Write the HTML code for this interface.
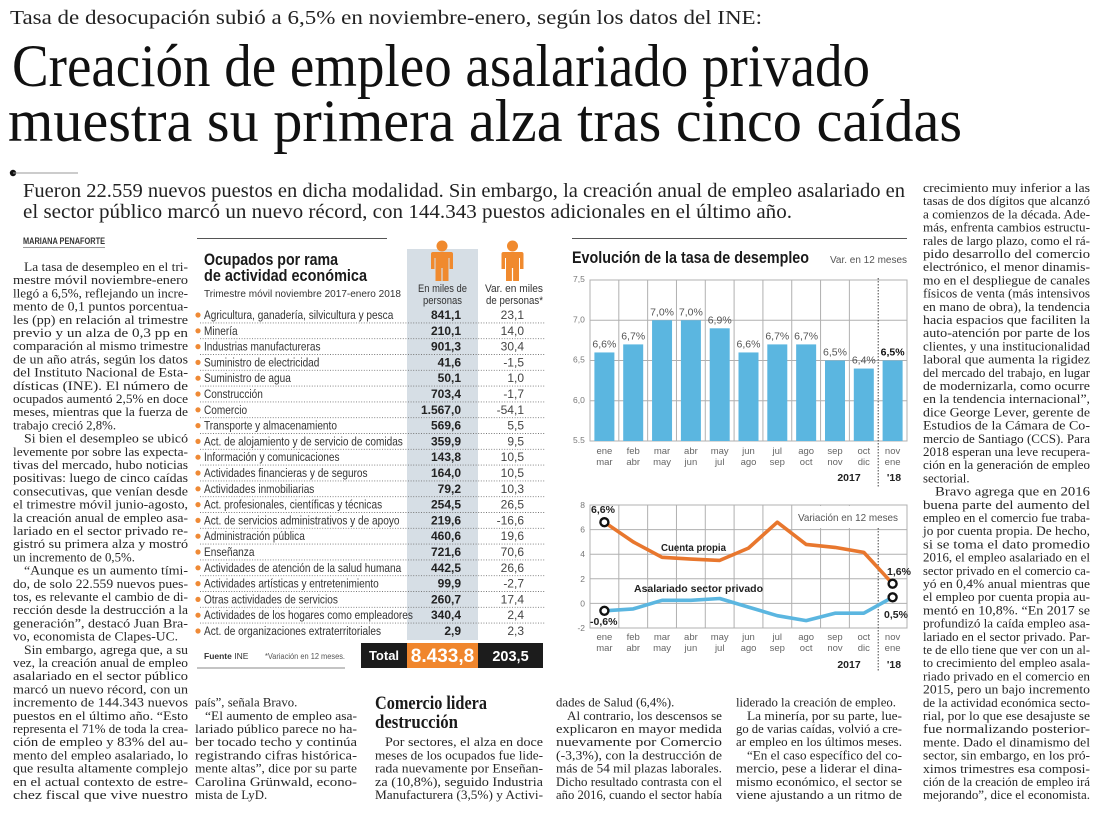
<!DOCTYPE html>
<html><head><meta charset="utf-8">
<style>
html,body{margin:0;padding:0;background:#fff;}
svg{display:block;}
.b{font-family:"Liberation Serif",serif;font-size:12.8px;fill:#262626;}
.s{font-family:"Liberation Sans",sans-serif;}
.tl{font-family:"Liberation Sans",sans-serif;font-size:12px;fill:#333;}
.v1{font-family:"Liberation Sans",sans-serif;font-size:12px;font-weight:bold;fill:#222;text-anchor:end;}
.v2{font-family:"Liberation Sans",sans-serif;font-size:12px;fill:#444;text-anchor:end;}
.ax{font-family:"Liberation Sans",sans-serif;font-size:8.5px;fill:#777;}
.xl{font-family:"Liberation Sans",sans-serif;font-size:9.5px;fill:#666;text-anchor:middle;}
.bl{font-family:"Liberation Sans",sans-serif;font-size:10.5px;fill:#555;text-anchor:middle;}
.g{stroke:#b0b0b0;stroke-width:1;fill:none;}
.dot{stroke:#777;stroke-width:0.9;stroke-dasharray:1 1.6;}
</style></head>
<body>
<svg width="1100" height="816" viewBox="0 0 1100 816" xmlns="http://www.w3.org/2000/svg">
<rect width="1100" height="816" fill="#fff"/>

<!-- Kicker & headline -->
<text x="10" y="24" font-family="Liberation Serif, serif" font-size="20" fill="#222" textLength="752" lengthAdjust="spacingAndGlyphs">Tasa de desocupación subió a 6,5% en noviembre-enero, según los datos del INE:</text>
<text x="12" y="86" font-family="Liberation Serif, serif" font-size="60" fill="#111" textLength="858" lengthAdjust="spacingAndGlyphs">Creación de empleo asalariado privado</text>
<text x="8" y="141" font-family="Liberation Serif, serif" font-size="60" fill="#111" textLength="954" lengthAdjust="spacingAndGlyphs">muestra su primera alza tras cinco caídas</text>

<circle cx="13" cy="173" r="3.2" fill="#111"/>
<line x1="13" y1="173" x2="78" y2="173" stroke="#999" stroke-width="0.9"/>

<text x="23" y="197" font-family="Liberation Serif, serif" font-size="19.5" fill="#222" textLength="882" lengthAdjust="spacingAndGlyphs">Fueron 22.559 nuevos puestos en dicha modalidad. Sin embargo, la creación anual de empleo asalariado en</text>
<text x="23" y="218" font-family="Liberation Serif, serif" font-size="19.5" fill="#222" textLength="769" lengthAdjust="spacingAndGlyphs">el sector público marcó un nuevo récord, con 144.343 puestos adicionales en el último año.</text>

<text x="23" y="244" class="s" font-size="9" font-weight="bold" fill="#333" textLength="82" lengthAdjust="spacingAndGlyphs">MARIANA PENAFORTE</text>
<line x1="23" y1="247.5" x2="105" y2="247.5" stroke="#777" stroke-width="0.8"/>

<!-- Left column -->
<g class="b">
<text x="24" y="271" textLength="164" lengthAdjust="spacingAndGlyphs">La tasa de desempleo en el tri-</text>
<text x="13" y="284.2" textLength="175" lengthAdjust="spacingAndGlyphs">mestre móvil noviembre-enero</text>
<text x="13" y="297.4" textLength="175" lengthAdjust="spacingAndGlyphs">llegó a 6,5%, reflejando un incre-</text>
<text x="13" y="310.6" textLength="175" lengthAdjust="spacingAndGlyphs">mento de 0,1 puntos porcentua-</text>
<text x="13" y="323.8" textLength="175" lengthAdjust="spacingAndGlyphs">les (pp) en relación al trimestre</text>
<text x="13" y="337" textLength="175" lengthAdjust="spacingAndGlyphs">previo y un alza de 0,3 pp en</text>
<text x="13" y="350.2" textLength="175" lengthAdjust="spacingAndGlyphs">comparación al mismo trimestre</text>
<text x="13" y="363.4" textLength="175" lengthAdjust="spacingAndGlyphs">de un año atrás, según los datos</text>
<text x="13" y="376.6" textLength="175" lengthAdjust="spacingAndGlyphs">del Instituto Nacional de Esta-</text>
<text x="13" y="389.8" textLength="175" lengthAdjust="spacingAndGlyphs">dísticas (INE). El número de</text>
<text x="13" y="403" textLength="175" lengthAdjust="spacingAndGlyphs">ocupados aumentó 2,5% en doce</text>
<text x="13" y="416.2" textLength="175" lengthAdjust="spacingAndGlyphs">meses, mientras que la fuerza de</text>
<text x="13" y="429.4">trabajo creció 2,8%.</text>
<text x="24" y="442.6" textLength="164" lengthAdjust="spacingAndGlyphs">Si bien el desempleo se ubicó</text>
<text x="13" y="455.8" textLength="175" lengthAdjust="spacingAndGlyphs">levemente por sobre las expecta-</text>
<text x="13" y="469" textLength="175" lengthAdjust="spacingAndGlyphs">tivas del mercado, hubo noticias</text>
<text x="13" y="482.2" textLength="175" lengthAdjust="spacingAndGlyphs">positivas: luego de cinco caídas</text>
<text x="13" y="495.4" textLength="175" lengthAdjust="spacingAndGlyphs">consecutivas, que venían desde</text>
<text x="13" y="508.6" textLength="175" lengthAdjust="spacingAndGlyphs">el trimestre móvil junio-agosto,</text>
<text x="13" y="521.8" textLength="175" lengthAdjust="spacingAndGlyphs">la creación anual de empleo asa-</text>
<text x="13" y="535" textLength="175" lengthAdjust="spacingAndGlyphs">lariado en el sector privado re-</text>
<text x="13" y="548.2" textLength="175" lengthAdjust="spacingAndGlyphs">gistró su primera alza y mostró</text>
<text x="13" y="561.4">un incremento de 0,5%.</text>
<text x="24" y="574.6" textLength="164" lengthAdjust="spacingAndGlyphs">“Aunque es un aumento tími-</text>
<text x="13" y="587.8" textLength="175" lengthAdjust="spacingAndGlyphs">do, de solo 22.559 nuevos pues-</text>
<text x="13" y="601" textLength="175" lengthAdjust="spacingAndGlyphs">tos, es relevante el cambio de di-</text>
<text x="13" y="614.2" textLength="175" lengthAdjust="spacingAndGlyphs">rección desde la destrucción a la</text>
<text x="13" y="627.4" textLength="175" lengthAdjust="spacingAndGlyphs">generación”, destacó Juan Bra-</text>
<text x="13" y="640.6" textLength="165" lengthAdjust="spacingAndGlyphs">vo, economista de Clapes-UC.</text>
<text x="24" y="653.8" textLength="164" lengthAdjust="spacingAndGlyphs">Sin embargo, agrega que, a su</text>
<text x="13" y="667" textLength="175" lengthAdjust="spacingAndGlyphs">vez, la creación anual de empleo</text>
<text x="13" y="680.2" textLength="175" lengthAdjust="spacingAndGlyphs">asalariado en el sector público</text>
<text x="13" y="693.4" textLength="175" lengthAdjust="spacingAndGlyphs">marcó un nuevo récord, con un</text>
<text x="13" y="706.6" textLength="175" lengthAdjust="spacingAndGlyphs">incremento de 144.343 nuevos</text>
<text x="13" y="719.8" textLength="175" lengthAdjust="spacingAndGlyphs">puestos en el último año. “Esto</text>
<text x="13" y="733" textLength="175" lengthAdjust="spacingAndGlyphs">representa el 71% de toda la crea-</text>
<text x="13" y="746.2" textLength="175" lengthAdjust="spacingAndGlyphs">ción de empleo y 83% del au-</text>
<text x="13" y="759.4" textLength="175" lengthAdjust="spacingAndGlyphs">mento del empleo asalariado, lo</text>
<text x="13" y="772.6" textLength="175" lengthAdjust="spacingAndGlyphs">que resulta altamente complejo</text>
<text x="13" y="785.8" textLength="175" lengthAdjust="spacingAndGlyphs">en el actual contexto de estre-</text>
<text x="13" y="799" textLength="175" lengthAdjust="spacingAndGlyphs">chez fiscal que vive nuestro</text>
</g>

<!-- Table -->
<line x1="197" y1="238.5" x2="387" y2="238.5" stroke="#555" stroke-width="1"/>
<rect x="407" y="249" width="71" height="391" fill="#d6dee5"/>
<text x="204" y="265" class="s" font-size="16.5" font-weight="bold" fill="#1a1a1a" textLength="134" lengthAdjust="spacingAndGlyphs">Ocupados por rama</text>
<text x="204" y="281" class="s" font-size="16.5" font-weight="bold" fill="#1a1a1a" textLength="163" lengthAdjust="spacingAndGlyphs">de actividad económica</text>
<text x="204" y="297" class="s" font-size="10.5" fill="#333" textLength="197" lengthAdjust="spacingAndGlyphs">Trimestre móvil noviembre 2017-enero 2018</text>

<g fill="#f08a2e">
 <g transform="translate(442,261)">
  <circle cx="0" cy="-15" r="5.5"/>
  <path d="M-11,-7 Q-11,-9 -9,-9 L9,-9 Q11,-9 11,-7 L11,8 L7.5,8 L7.5,-3 L6.5,-3 L6.5,20 L0.6,20 L0.6,7 L-0.6,7 L-0.6,20 L-6.5,20 L-6.5,-3 L-7.5,-3 L-7.5,8 L-11,8 Z"/>
 </g>
 <g transform="translate(512.5,261)">
  <circle cx="0" cy="-15" r="5.5"/>
  <path d="M-11,-7 Q-11,-9 -9,-9 L9,-9 Q11,-9 11,-7 L11,8 L7.5,8 L7.5,-3 L6.5,-3 L6.5,20 L0.6,20 L0.6,7 L-0.6,7 L-0.6,20 L-6.5,20 L-6.5,-3 L-7.5,-3 L-7.5,8 L-11,8 Z"/>
 </g>
</g>
<text x="418" y="292" class="s" font-size="11" fill="#333" textLength="49" lengthAdjust="spacingAndGlyphs">En miles de</text>
<text x="423" y="304" class="s" font-size="11" fill="#333" textLength="39" lengthAdjust="spacingAndGlyphs">personas</text>
<text x="485" y="292" class="s" font-size="11" fill="#333" textLength="58" lengthAdjust="spacingAndGlyphs">Var. en miles</text>
<text x="486" y="304" class="s" font-size="11" fill="#333" textLength="57" lengthAdjust="spacingAndGlyphs">de personas*</text>

<g fill="#ef8a36">
<circle cx="198" cy="315" r="2.6"/><circle cx="198" cy="330.8" r="2.6"/><circle cx="198" cy="346.6" r="2.6"/>
<circle cx="198" cy="362.4" r="2.6"/><circle cx="198" cy="378.2" r="2.6"/><circle cx="198" cy="394" r="2.6"/>
<circle cx="198" cy="409.8" r="2.6"/><circle cx="198" cy="425.6" r="2.6"/><circle cx="198" cy="441.4" r="2.6"/>
<circle cx="198" cy="457.2" r="2.6"/><circle cx="198" cy="473" r="2.6"/><circle cx="198" cy="488.8" r="2.6"/>
<circle cx="198" cy="504.6" r="2.6"/><circle cx="198" cy="520.4" r="2.6"/><circle cx="198" cy="536.2" r="2.6"/>
<circle cx="198" cy="552" r="2.6"/><circle cx="198" cy="567.8" r="2.6"/><circle cx="198" cy="583.6" r="2.6"/>
<circle cx="198" cy="599.4" r="2.6"/><circle cx="198" cy="615.2" r="2.6"/><circle cx="198" cy="631" r="2.6"/>
</g>

<g class="dot">
<line x1="200" y1="322.9" x2="545" y2="322.9"/><line x1="200" y1="338.7" x2="545" y2="338.7"/>
<line x1="200" y1="354.5" x2="545" y2="354.5"/><line x1="200" y1="370.3" x2="545" y2="370.3"/>
<line x1="200" y1="386.1" x2="545" y2="386.1"/><line x1="200" y1="401.9" x2="545" y2="401.9"/>
<line x1="200" y1="417.7" x2="545" y2="417.7"/><line x1="200" y1="433.5" x2="545" y2="433.5"/>
<line x1="200" y1="449.3" x2="545" y2="449.3"/><line x1="200" y1="465.1" x2="545" y2="465.1"/>
<line x1="200" y1="480.9" x2="545" y2="480.9"/><line x1="200" y1="496.7" x2="545" y2="496.7"/>
<line x1="200" y1="512.5" x2="545" y2="512.5"/><line x1="200" y1="528.3" x2="545" y2="528.3"/>
<line x1="200" y1="544.1" x2="545" y2="544.1"/><line x1="200" y1="559.9" x2="545" y2="559.9"/>
<line x1="200" y1="575.7" x2="545" y2="575.7"/><line x1="200" y1="591.5" x2="545" y2="591.5"/>
<line x1="200" y1="607.3" x2="545" y2="607.3"/><line x1="200" y1="623.1" x2="545" y2="623.1"/>
</g>

<g transform="translate(204,0) scale(0.84,1)" class="tl">
<text x="0" y="319">Agricultura, ganadería, silvicultura y pesca</text>
<text x="0" y="334.8">Minería</text>
<text x="0" y="350.6">Industrias manufactureras</text>
<text x="0" y="366.4">Suministro de electricidad</text>
<text x="0" y="382.2">Suministro de agua</text>
<text x="0" y="398">Construcción</text>
<text x="0" y="413.8">Comercio</text>
<text x="0" y="429.6">Transporte y almacenamiento</text>
<text x="0" y="445.4">Act. de alojamiento y de servicio de comidas</text>
<text x="0" y="461.2">Información y comunicaciones</text>
<text x="0" y="477">Actividades financieras y de seguros</text>
<text x="0" y="492.8">Actividades inmobiliarias</text>
<text x="0" y="508.6">Act. profesionales, científicas y técnicas</text>
<text x="0" y="524.4">Act. de servicios administrativos y de apoyo</text>
<text x="0" y="540.2">Administración pública</text>
<text x="0" y="556">Enseñanza</text>
<text x="0" y="571.8">Actividades de atención de la salud humana</text>
<text x="0" y="587.6">Actividades artísticas y entretenimiento</text>
<text x="0" y="603.4">Otras actividades de servicios</text>
<text x="0" y="619.2">Actividades de los hogares como empleadores</text>
<text x="0" y="635">Act. de organizaciones extraterritoriales</text>
</g>
<g class="v1">
<text x="461" y="319">841,1</text><text x="461" y="334.8">210,1</text><text x="461" y="350.6">901,3</text>
<text x="461" y="366.4">41,6</text><text x="461" y="382.2">50,1</text><text x="461" y="398">703,4</text>
<text x="461" y="413.8">1.567,0</text><text x="461" y="429.6">569,6</text><text x="461" y="445.4">359,9</text>
<text x="461" y="461.2">143,8</text><text x="461" y="477">164,0</text><text x="461" y="492.8">79,2</text>
<text x="461" y="508.6">254,5</text><text x="461" y="524.4">219,6</text><text x="461" y="540.2">460,6</text>
<text x="461" y="556">721,6</text><text x="461" y="571.8">442,5</text><text x="461" y="587.6">99,9</text>
<text x="461" y="603.4">260,7</text><text x="461" y="619.2">340,4</text><text x="461" y="635">2,9</text>
</g>
<g class="v2">
<text x="524" y="319">23,1</text><text x="524" y="334.8">14,0</text><text x="524" y="350.6">30,4</text>
<text x="524" y="366.4">-1,5</text><text x="524" y="382.2">1,0</text><text x="524" y="398">-1,7</text>
<text x="524" y="413.8">-54,1</text><text x="524" y="429.6">5,5</text><text x="524" y="445.4">9,5</text>
<text x="524" y="461.2">10,5</text><text x="524" y="477">10,5</text><text x="524" y="492.8">10,3</text>
<text x="524" y="508.6">26,5</text><text x="524" y="524.4">-16,6</text><text x="524" y="540.2">19,6</text>
<text x="524" y="556">70,6</text><text x="524" y="571.8">26,6</text><text x="524" y="587.6">-2,7</text>
<text x="524" y="603.4">17,4</text><text x="524" y="619.2">2,4</text><text x="524" y="635">2,3</text>
</g>

<text x="204" y="659" class="s" font-size="8.5" fill="#333"><tspan font-weight="bold">Fuente</tspan> INE</text>
<text x="265" y="659" class="s" font-size="8" fill="#555" textLength="80" lengthAdjust="spacingAndGlyphs">*Variación en 12 meses.</text>
<line x1="197" y1="668" x2="345" y2="668" stroke="#888" stroke-width="1"/>
<rect x="361" y="643" width="46" height="25" fill="#1c1c1c"/>
<rect x="407" y="643" width="71" height="25" fill="#f0862d"/>
<rect x="478" y="643" width="65" height="25" fill="#1c1c1c"/>
<text x="384" y="660" class="s" font-size="13" font-weight="bold" fill="#fff" text-anchor="middle">Total</text>
<text x="442.5" y="662" class="s" font-size="19" font-weight="bold" fill="#fff" text-anchor="middle">8.433,8</text>
<text x="510.5" y="661" class="s" font-size="14.5" font-weight="bold" fill="#fff" text-anchor="middle">203,5</text>

<!-- Bar chart -->
<line x1="572" y1="238.5" x2="907" y2="238.5" stroke="#555" stroke-width="1"/>
<text x="572" y="263" class="s" font-size="16.5" font-weight="bold" fill="#1a1a1a" textLength="237" lengthAdjust="spacingAndGlyphs">Evolución de la tasa de desempleo</text>
<text x="830" y="263" class="s" font-size="10" fill="#555" textLength="77" lengthAdjust="spacingAndGlyphs">Var. en 12 meses</text>

<g class="g">
<rect x="590" y="280" width="317" height="161"/>
<line x1="590" y1="320.25" x2="907" y2="320.25"/>
<line x1="590" y1="360.5" x2="907" y2="360.5"/>
<line x1="590" y1="400.75" x2="907" y2="400.75"/>
<line x1="618.82" y1="280" x2="618.82" y2="441"/><line x1="647.64" y1="280" x2="647.64" y2="441"/>
<line x1="676.46" y1="280" x2="676.46" y2="441"/><line x1="705.28" y1="280" x2="705.28" y2="441"/>
<line x1="734.1" y1="280" x2="734.1" y2="441"/><line x1="762.92" y1="280" x2="762.92" y2="441"/>
<line x1="791.74" y1="280" x2="791.74" y2="441"/><line x1="820.56" y1="280" x2="820.56" y2="441"/>
<line x1="849.38" y1="280" x2="849.38" y2="441"/>
</g>
<g fill="#5bb6e0">
<rect x="594.4" y="352.45" width="20" height="88.55"/>
<rect x="623.2" y="344.4" width="20" height="96.6"/>
<rect x="652.05" y="320.25" width="20" height="120.75"/>
<rect x="680.9" y="320.25" width="20" height="120.75"/>
<rect x="709.7" y="328.3" width="20" height="112.7"/>
<rect x="738.5" y="352.45" width="20" height="88.55"/>
<rect x="767.3" y="344.4" width="20" height="96.6"/>
<rect x="796.15" y="344.4" width="20" height="96.6"/>
<rect x="825" y="360.5" width="20" height="80.5"/>
<rect x="853.8" y="368.55" width="20" height="72.45"/>
<rect x="882.6" y="360.5" width="20" height="80.5"/>
</g>
<line x1="878.2" y1="278" x2="878.2" y2="488" stroke="#444" stroke-width="1" stroke-dasharray="1.5 1.5"/>
<g class="bl">
<text x="604.4" y="347.5">6,6%</text>
<text x="633.2" y="339.4">6,7%</text>
<text x="662.05" y="315.3">7,0%</text>
<text x="690.9" y="315.3">7,0%</text>
<text x="719.7" y="323.3">6,9%</text>
<text x="748.5" y="347.5">6,6%</text>
<text x="777.3" y="339.4">6,7%</text>
<text x="806.15" y="339.4">6,7%</text>
<text x="835" y="355.5">6,5%</text>
<text x="863.8" y="363.6">6,4%</text>
<text x="892.6" y="355.5" font-weight="bold" fill="#111">6,5%</text>
</g>
<g class="ax">
<text x="573" y="282">7,5</text>
<text x="573" y="322.5">7,0</text>
<text x="573" y="362.5">6,5</text>
<text x="573" y="403">6,0</text>
<text x="573" y="443">5.5</text>
</g>
<g class="xl">
<text x="604.4" y="454">ene</text><text x="604.4" y="465">mar</text>
<text x="633.2" y="454">feb</text><text x="633.2" y="465">abr</text>
<text x="662.05" y="454">mar</text><text x="662.05" y="465">may</text>
<text x="690.9" y="454">abr</text><text x="690.9" y="465">jun</text>
<text x="719.7" y="454">may</text><text x="719.7" y="465">jul</text>
<text x="748.5" y="454">jun</text><text x="748.5" y="465">ago</text>
<text x="777.3" y="454">jul</text><text x="777.3" y="465">sep</text>
<text x="806.15" y="454">ago</text><text x="806.15" y="465">oct</text>
<text x="835" y="454">sep</text><text x="835" y="465">nov</text>
<text x="863.8" y="454">oct</text><text x="863.8" y="465">dic</text>
<text x="892.6" y="454">nov</text><text x="892.6" y="465">ene</text>
</g>
<text x="849" y="481" class="s" font-size="10.5" font-weight="bold" fill="#222" text-anchor="middle">2017</text>
<text x="894" y="481" class="s" font-size="10.5" font-weight="bold" fill="#222" text-anchor="middle">'18</text>

<!-- Line chart -->
<g class="g">
<rect x="590" y="505" width="317" height="123"/>
<line x1="590" y1="529.6" x2="907" y2="529.6"/>
<line x1="590" y1="554.2" x2="907" y2="554.2"/>
<line x1="590" y1="578.8" x2="907" y2="578.8"/>
<line x1="590" y1="603.4" x2="907" y2="603.4"/>
<line x1="618.82" y1="505" x2="618.82" y2="628"/><line x1="647.64" y1="505" x2="647.64" y2="628"/>
<line x1="676.46" y1="505" x2="676.46" y2="628"/><line x1="705.28" y1="505" x2="705.28" y2="628"/>
<line x1="734.1" y1="505" x2="734.1" y2="628"/><line x1="762.92" y1="505" x2="762.92" y2="628"/>
<line x1="791.74" y1="505" x2="791.74" y2="628"/><line x1="820.56" y1="505" x2="820.56" y2="628"/>
<line x1="849.38" y1="505" x2="849.38" y2="628"/>
</g>
<rect x="793" y="506" width="113" height="22" fill="#fff"/>
<line x1="878.2" y1="528" x2="878.2" y2="672" stroke="#444" stroke-width="1" stroke-dasharray="1.5 1.5"/>
<text x="798" y="521" class="s" font-size="10.5" fill="#555" textLength="100" lengthAdjust="spacingAndGlyphs">Variación en 12 meses</text>
<g class="ax" text-anchor="end">
<text x="585" y="508">8</text>
<text x="585" y="532.6">6</text>
<text x="585" y="557.2">4</text>
<text x="585" y="581.8">2</text>
<text x="585" y="606.4">0</text>
<text x="585" y="631">-2</text>
</g>
<polyline fill="none" stroke="#e8772e" stroke-width="3.6" stroke-linejoin="round" points="604.4,522.2 633.2,541.9 662.05,557.3 690.9,559.1 719.7,560.4 748.5,548.1 777.3,522.2 806.15,544.4 835,547.4 863.8,552.4 892.6,583.7"/>
<polyline fill="none" stroke="#5bb6e0" stroke-width="3.6" stroke-linejoin="round" points="604.4,610.8 633.2,608.9 662.05,600.3 690.9,600.3 719.7,598.5 748.5,607.1 777.3,615.7 806.15,620.6 835,613.2 863.8,613.2 892.6,597.3"/>
<g fill="#fff" stroke="#111" stroke-width="2.4">
<circle cx="604.4" cy="522.2" r="4"/>
<circle cx="892.6" cy="583.7" r="4"/>
<circle cx="604.4" cy="610.8" r="4"/>
<circle cx="892.6" cy="597.3" r="4"/>
</g>
<g class="s" font-size="10.5" font-weight="bold" fill="#222">
<text x="591" y="513">6,6%</text>
<text x="590" y="625">-0,6%</text>
<text x="887" y="575">1,6%</text>
<text x="884" y="618">0,5%</text>
<text x="661" y="551" textLength="65" lengthAdjust="spacingAndGlyphs">Cuenta propia</text>
<text x="634" y="592" textLength="129" lengthAdjust="spacingAndGlyphs">Asalariado sector privado</text>
</g>
<g class="xl">
<text x="604.4" y="640">ene</text><text x="604.4" y="651">mar</text>
<text x="633.2" y="640">feb</text><text x="633.2" y="651">abr</text>
<text x="662.05" y="640">mar</text><text x="662.05" y="651">may</text>
<text x="690.9" y="640">abr</text><text x="690.9" y="651">jun</text>
<text x="719.7" y="640">may</text><text x="719.7" y="651">jul</text>
<text x="748.5" y="640">jun</text><text x="748.5" y="651">ago</text>
<text x="777.3" y="640">jul</text><text x="777.3" y="651">sep</text>
<text x="806.15" y="640">ago</text><text x="806.15" y="651">oct</text>
<text x="835" y="640">sep</text><text x="835" y="651">nov</text>
<text x="863.8" y="640">oct</text><text x="863.8" y="651">dic</text>
<text x="892.6" y="640">nov</text><text x="892.6" y="651">ene</text>
</g>
<text x="849" y="668" class="s" font-size="10.5" font-weight="bold" fill="#222" text-anchor="middle">2017</text>
<text x="894" y="668" class="s" font-size="10.5" font-weight="bold" fill="#222" text-anchor="middle">'18</text>

<!-- Right column -->
<g class="b">
<text x="923" y="192" textLength="167" lengthAdjust="spacingAndGlyphs">crecimiento muy inferior a las</text>
<text x="923" y="205.2" textLength="167" lengthAdjust="spacingAndGlyphs">tasas de dos dígitos que alcanzó</text>
<text x="923" y="218.4" textLength="167" lengthAdjust="spacingAndGlyphs">a comienzos de la década. Ade-</text>
<text x="923" y="231.6" textLength="167" lengthAdjust="spacingAndGlyphs">más, enfrenta cambios estructu-</text>
<text x="923" y="244.8" textLength="167" lengthAdjust="spacingAndGlyphs">rales de largo plazo, como el rá-</text>
<text x="923" y="258" textLength="167" lengthAdjust="spacingAndGlyphs">pido desarrollo del comercio</text>
<text x="923" y="271.2" textLength="167" lengthAdjust="spacingAndGlyphs">electrónico, el menor dinamis-</text>
<text x="923" y="284.4" textLength="167" lengthAdjust="spacingAndGlyphs">mo en el despliegue de canales</text>
<text x="923" y="297.6" textLength="167" lengthAdjust="spacingAndGlyphs">físicos de venta (más intensivos</text>
<text x="923" y="310.8" textLength="167" lengthAdjust="spacingAndGlyphs">en mano de obra), la tendencia</text>
<text x="923" y="324" textLength="167" lengthAdjust="spacingAndGlyphs">hacia espacios que faciliten la</text>
<text x="923" y="337.2" textLength="167" lengthAdjust="spacingAndGlyphs">auto-atención por parte de los</text>
<text x="923" y="350.4" textLength="167" lengthAdjust="spacingAndGlyphs">clientes, y una institucionalidad</text>
<text x="923" y="363.6" textLength="167" lengthAdjust="spacingAndGlyphs">laboral que aumenta la rigidez</text>
<text x="923" y="376.8" textLength="167" lengthAdjust="spacingAndGlyphs">del mercado del trabajo, en lugar</text>
<text x="923" y="390" textLength="167" lengthAdjust="spacingAndGlyphs">de modernizarla, como ocurre</text>
<text x="923" y="403.2" textLength="167" lengthAdjust="spacingAndGlyphs">en la tendencia internacional”,</text>
<text x="923" y="416.4" textLength="167" lengthAdjust="spacingAndGlyphs">dice George Lever, gerente de</text>
<text x="923" y="429.6" textLength="167" lengthAdjust="spacingAndGlyphs">Estudios de la Cámara de Co-</text>
<text x="923" y="442.8" textLength="167" lengthAdjust="spacingAndGlyphs">mercio de Santiago (CCS). Para</text>
<text x="923" y="456" textLength="167" lengthAdjust="spacingAndGlyphs">2018 esperan una leve recupera-</text>
<text x="923" y="469.2" textLength="167" lengthAdjust="spacingAndGlyphs">ción en la generación de empleo</text>
<text x="923" y="482.4">sectorial.</text>
<text x="935" y="495.6" textLength="155" lengthAdjust="spacingAndGlyphs">Bravo agrega que en 2016</text>
<text x="923" y="508.8" textLength="167" lengthAdjust="spacingAndGlyphs">buena parte del aumento del</text>
<text x="923" y="522" textLength="167" lengthAdjust="spacingAndGlyphs">empleo en el comercio fue traba-</text>
<text x="923" y="535.2" textLength="167" lengthAdjust="spacingAndGlyphs">jo por cuenta propia. De hecho,</text>
<text x="923" y="548.4" textLength="167" lengthAdjust="spacingAndGlyphs">si se toma el dato promedio</text>
<text x="923" y="561.6" textLength="167" lengthAdjust="spacingAndGlyphs">2016, el empleo asalariado en el</text>
<text x="923" y="574.8" textLength="167" lengthAdjust="spacingAndGlyphs">sector privado en el comercio ca-</text>
<text x="923" y="588" textLength="167" lengthAdjust="spacingAndGlyphs">yó en 0,4% anual mientras que</text>
<text x="923" y="601.2" textLength="167" lengthAdjust="spacingAndGlyphs">el empleo por cuenta propia au-</text>
<text x="923" y="614.4" textLength="167" lengthAdjust="spacingAndGlyphs">mentó en 10,8%. “En 2017 se</text>
<text x="923" y="627.6" textLength="167" lengthAdjust="spacingAndGlyphs">profundizó la caída empleo asa-</text>
<text x="923" y="640.8" textLength="167" lengthAdjust="spacingAndGlyphs">lariado en el sector privado. Par-</text>
<text x="923" y="654" textLength="167" lengthAdjust="spacingAndGlyphs">te de ello tiene que ver con un al-</text>
<text x="923" y="667.2" textLength="167" lengthAdjust="spacingAndGlyphs">to crecimiento del empleo asala-</text>
<text x="923" y="680.4" textLength="167" lengthAdjust="spacingAndGlyphs">riado privado en el comercio en</text>
<text x="923" y="693.6" textLength="167" lengthAdjust="spacingAndGlyphs">2015, pero un bajo incremento</text>
<text x="923" y="706.8" textLength="167" lengthAdjust="spacingAndGlyphs">de la actividad económica secto-</text>
<text x="923" y="720" textLength="167" lengthAdjust="spacingAndGlyphs">rial, por lo que ese desajuste se</text>
<text x="923" y="733.2" textLength="167" lengthAdjust="spacingAndGlyphs">fue normalizando posterior-</text>
<text x="923" y="746.4" textLength="167" lengthAdjust="spacingAndGlyphs">mente. Dado el dinamismo del</text>
<text x="923" y="759.6" textLength="167" lengthAdjust="spacingAndGlyphs">sector, sin embargo, en los pró-</text>
<text x="923" y="772.8" textLength="167" lengthAdjust="spacingAndGlyphs">ximos trimestres esa composi-</text>
<text x="923" y="786" textLength="167" lengthAdjust="spacingAndGlyphs">ción de la creación de empleo irá</text>
<text x="923" y="799.2" textLength="167" lengthAdjust="spacingAndGlyphs">mejorando”, dice el economista.</text>
</g>

<!-- Bottom columns -->
<g class="b">
<text x="195" y="706.6">país”, señala Bravo.</text>
<text x="205" y="719.8" textLength="152" lengthAdjust="spacingAndGlyphs">“El aumento de empleo asa-</text>
<text x="195" y="733" textLength="162" lengthAdjust="spacingAndGlyphs">lariado público parece no ha-</text>
<text x="195" y="746.2" textLength="162" lengthAdjust="spacingAndGlyphs">ber tocado techo y continúa</text>
<text x="195" y="759.4" textLength="162" lengthAdjust="spacingAndGlyphs">registrando cifras histórica-</text>
<text x="195" y="772.6" textLength="162" lengthAdjust="spacingAndGlyphs">mente altas”, dice por su parte</text>
<text x="195" y="785.8" textLength="162" lengthAdjust="spacingAndGlyphs">Carolina Grünwald, econo-</text>
<text x="195" y="799">mista de LyD.</text>

<text x="385" y="746.2" textLength="158" lengthAdjust="spacingAndGlyphs">Por sectores, el alza en doce</text>
<text x="375" y="759.4" textLength="168" lengthAdjust="spacingAndGlyphs">meses de los ocupados fue lide-</text>
<text x="375" y="772.6" textLength="168" lengthAdjust="spacingAndGlyphs">rada nuevamente por Enseñan-</text>
<text x="375" y="785.8" textLength="168" lengthAdjust="spacingAndGlyphs">za (10,8%), seguido Industria</text>
<text x="375" y="799" textLength="168" lengthAdjust="spacingAndGlyphs">Manufacturera (3,5%) y Activi-</text>

<text x="556" y="706.6">dades de Salud (6,4%).</text>
<text x="567" y="719.8" textLength="155" lengthAdjust="spacingAndGlyphs">Al contrario, los descensos se</text>
<text x="556" y="733" textLength="166" lengthAdjust="spacingAndGlyphs">explicaron en mayor medida</text>
<text x="556" y="746.2" textLength="166" lengthAdjust="spacingAndGlyphs">nuevamente por Comercio</text>
<text x="556" y="759.4" textLength="166" lengthAdjust="spacingAndGlyphs">(-3,3%), con la destrucción de</text>
<text x="556" y="772.6" textLength="166" lengthAdjust="spacingAndGlyphs">más de 54 mil plazas laborales.</text>
<text x="556" y="785.8" textLength="166" lengthAdjust="spacingAndGlyphs">Dicho resultado contrasta con el</text>
<text x="556" y="799" textLength="166" lengthAdjust="spacingAndGlyphs">año 2016, cuando el sector había</text>

<text x="736" y="706.6" textLength="160" lengthAdjust="spacingAndGlyphs">liderado la creación de empleo.</text>
<text x="747" y="719.8" textLength="155" lengthAdjust="spacingAndGlyphs">La minería, por su parte, lue-</text>
<text x="736" y="733" textLength="166" lengthAdjust="spacingAndGlyphs">go de varias caídas, volvió a cre-</text>
<text x="736" y="746.2" textLength="166" lengthAdjust="spacingAndGlyphs">ar empleo en los últimos meses.</text>
<text x="747" y="759.4" textLength="155" lengthAdjust="spacingAndGlyphs">“En el caso específico del co-</text>
<text x="736" y="772.6" textLength="166" lengthAdjust="spacingAndGlyphs">mercio, pese a liderar el dina-</text>
<text x="736" y="785.8" textLength="166" lengthAdjust="spacingAndGlyphs">mismo económico, el sector se</text>
<text x="736" y="799" textLength="166" lengthAdjust="spacingAndGlyphs">viene ajustando a un ritmo de</text>
</g>
<text x="375" y="709" font-family="Liberation Serif, serif" font-size="18.5" font-weight="bold" fill="#1a1a1a" textLength="112" lengthAdjust="spacingAndGlyphs">Comercio lidera</text>
<text x="375" y="728" font-family="Liberation Serif, serif" font-size="18.5" font-weight="bold" fill="#1a1a1a" textLength="83" lengthAdjust="spacingAndGlyphs">destrucción</text>
</svg>
</body></html>
